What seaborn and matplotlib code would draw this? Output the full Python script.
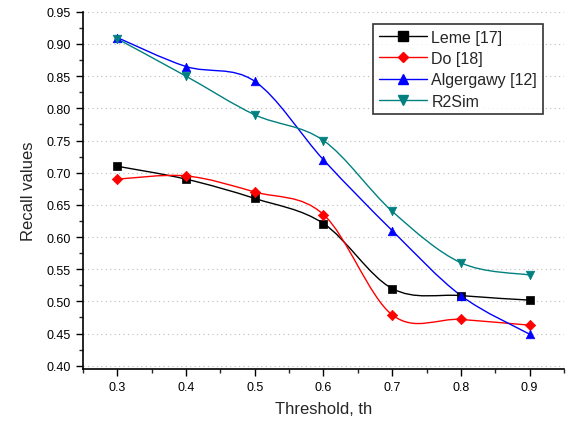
import numpy as np
import seaborn as sns
import matplotlib.pyplot as plt
from matplotlib.path import Path
from matplotlib.patches import PathPatch
from matplotlib.lines import Line2D
from matplotlib.ticker import MultipleLocator

threshold = [0.3, 0.4, 0.5, 0.6, 0.7, 0.8, 0.9]
leme = [0.71, 0.69, 0.66, 0.621, 0.52, 0.509, 0.502]
do = [0.69, 0.695, 0.67, 0.635, 0.479, 0.472, 0.463]
algergawy = [0.91, 0.865, 0.842, 0.72, 0.61, 0.509, 0.449]
r2sim = [0.908, 0.85, 0.79, 0.75, 0.64, 0.56, 0.541]

series_names = ["Leme [17]", "Do [18]", "Algergawy [12]", "R2Sim"]
series_values = [leme, do, algergawy, r2sim]
colors = ["black", "#ff0000", "#0000ff", "#008080"]
markers = ["s", "D", "^", "v"]

sns.set_style("ticks")
plt.rcParams['font.family'] = ['Liberation Sans', 'DejaVu Sans']

fig = plt.figure(figsize=(5.68, 4.27), dpi=100)
ax = fig.add_axes([0.146, 0.134, 0.847, 0.836])


def smooth_path(xs, ys):
    # Catmull-Rom curve through the points as cubic Bezier segments
    pts = np.column_stack([xs, ys])
    verts = [pts[0]]
    codes = [Path.MOVETO]
    n = len(pts)
    for i in range(n - 1):
        p0 = pts[i - 1] if i > 0 else pts[i]
        p1 = pts[i]
        p2 = pts[i + 1]
        p3 = pts[i + 2] if i + 2 < n else pts[i + 1]
        c1 = p1 + (p2 - p0) / 6.0
        c2 = p2 - (p3 - p1) / 6.0
        verts += [c1, c2, p2]
        codes += [Path.CURVE4] * 3
    return Path(verts, codes)


handles = []
for name, vals, c, m in zip(series_names, series_values, colors, markers):
    ax.add_patch(PathPatch(smooth_path(threshold, vals), facecolor="none",
                           edgecolor=c, lw=1.0, zorder=2))
    sns.scatterplot(x=threshold, y=vals, marker=m, color=c,
                    s=28 if m == "D" else 38,
                    edgecolor=c, linewidth=0.5, ax=ax, zorder=3)
    handles.append(Line2D([], [], color=c, marker=m,
                          markersize=5.5 if m == "D" else 6.5, lw=1.0,
                          label=name))

ax.set_xlim(0.25, 0.95)
ax.set_ylim(0.3953, 0.95)
ax.xaxis.set_minor_locator(MultipleLocator(0.05))
ax.yaxis.set_minor_locator(MultipleLocator(0.025))
ax.set_xticks([0.3, 0.4, 0.5, 0.6, 0.7, 0.8, 0.9])
ax.set_xticklabels(["0.3", "0.4", "0.5", "0.6", "0.7", "0.8", "0.9"])
yt = [0.40, 0.45, 0.50, 0.55, 0.60, 0.65, 0.70, 0.75, 0.80, 0.85, 0.90, 0.95]
ax.set_yticks(yt)
ax.set_yticklabels([f"{v:.2f}" for v in yt])
ax.tick_params(axis="both", which="major", direction="out", length=5,
               width=1, labelsize=9, colors="black")
ax.tick_params(axis="both", which="minor", direction="out", length=3, width=1)

ax.grid(axis="y", which="major", linestyle=(0, (1, 3)), color="#bbbbbb", lw=0.8)
for s in ["top", "right"]:
    ax.spines[s].set_visible(False)
for s in ["left", "bottom"]:
    ax.spines[s].set_linewidth(1.2)
    ax.spines[s].set_color("black")

ax.set_xlabel("Threshold, th", fontsize=12, labelpad=6)
ax.set_ylabel("Recall values", fontsize=12, labelpad=8)

leg = ax.legend(handles=handles, loc="upper left",
                bbox_to_anchor=(0.603, 0.966), fontsize=11.5, frameon=True,
                fancybox=False, handlelength=3.0, borderpad=0.35,
                labelspacing=0.4, handletextpad=0.3, borderaxespad=0)
leg.get_frame().set_edgecolor("black")
leg.get_frame().set_linewidth(1.2)

fig.savefig("out.png", dpi=100)
